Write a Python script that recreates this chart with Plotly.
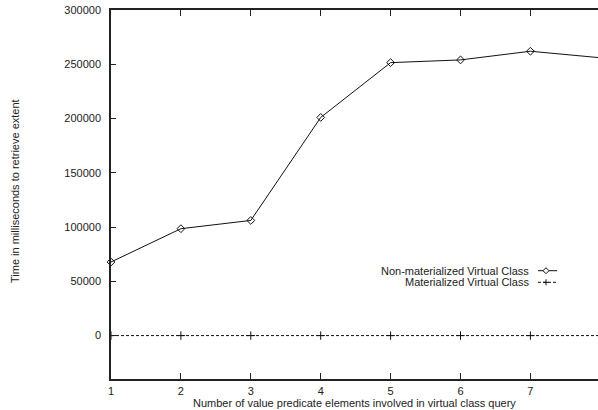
import plotly.graph_objects as go

# Number of value predicate elements in the virtual class query
elements = [1, 2, 3, 4, 5, 6, 7, 8]
# Retrieval time in milliseconds
non_materialized = [67800, 98500, 106100, 201000, 251500, 254000, 262000, 256000]
materialized = [0, 0, 0, 0, 0, 0, 0, 0]

series_names = ["Non-materialized Virtual Class", "Materialized Virtual Class"]
x_ticks = [1, 2, 3, 4, 5, 6, 7]
y_ticks = [0, 50000, 100000, 150000, 200000, 250000, 300000]

W, H = 598, 410
ML, MR, MT, MB = 111, 0, 10, 31
PW, PH = W - ML - MR, H - MT - MB

FONT = dict(family="Liberation Sans, Arial, Helvetica, sans-serif", size=11, color="#222")
INK = "#111"
Y_RANGE = [-40000, 300000]


def px_x(p):
    return (p - ML) / PW


def px_y(p):
    return (H - MB - p) / PH


fig = go.Figure()
fig.add_trace(go.Scatter(
    x=elements, y=non_materialized, mode="lines+markers", name=series_names[0],
    line=dict(color=INK, width=1),
    marker=dict(symbol="diamond-open", size=6, color=INK, line=dict(width=1, color=INK)),
    cliponaxis=False, showlegend=False,
))
fig.add_trace(go.Scatter(
    x=elements, y=materialized, mode="lines+markers", name=series_names[1],
    line=dict(color=INK, width=1, dash="3px,2px"),
    marker=dict(symbol="cross-thin", size=6, color=INK, line=dict(width=1, color=INK)),
    showlegend=False,
))

axis_common = dict(
    showgrid=False, zeroline=False, showline=True, linecolor="#222", linewidth=1.5,
    ticks="inside", tickcolor="#222", tickwidth=1, tickfont=FONT,
)
fig.update_layout(
    xaxis=dict(range=[1, 1 + 487 / 69.9], tickvals=x_ticks, ticklen=6,
               mirror="ticks", ticklabelstandoff=1, **axis_common),
    yaxis=dict(range=Y_RANGE, tickvals=y_ticks, ticklen=5,
               tickformat="d", ticklabelstandoff=6, **axis_common),
    # right-hand tick marks along the frame edge
    yaxis2=dict(range=Y_RANGE, tickvals=y_ticks, overlaying="y", side="right",
                showline=False, showgrid=False, zeroline=False, showticklabels=False,
                ticks="inside", ticklen=3, tickwidth=1, tickcolor="#222"),
)

# Legend: text right-aligned with the line sample on its right
annotations = [
    dict(text="Number of value predicate elements involved in virtual class query",
         x=0.5, y=px_y(402.5), xref="paper", yref="paper", showarrow=False,
         xanchor="center", yanchor="middle", font=FONT),
    dict(text="Time in milliseconds to retrieve extent", textangle=-90,
         x=px_x(15), y=px_y(191), xref="paper", yref="paper", showarrow=False,
         xanchor="center", yanchor="middle", font=FONT),
]
shapes = []
legend_rows = [(270.7, "solid", "diamond"), (282.3, "3px,2px", "cross")]
for name, (py, dash, sym) in zip(series_names, legend_rows):
    annotations.append(dict(text=name, x=px_x(531), y=px_y(py), xref="paper", yref="paper",
                            showarrow=False, xanchor="right", yanchor="middle", font=FONT))
    shapes.append(dict(type="line", xref="paper", yref="paper",
                       x0=px_x(538), x1=px_x(557), y0=px_y(py), y1=px_y(py),
                       line=dict(color=INK, width=1, dash=dash)))
    if sym == "diamond":
        path = "M 0 -3 L 3 0 L 0 3 L -3 0 Z"
        fill = "white"
    else:
        path = "M -3 0 L 3 0 M 0 -3 L 0 3"
        fill = None
    shapes.append(dict(type="path", path=path, xref="paper", yref="paper",
                       xsizemode="pixel", ysizemode="pixel",
                       xanchor=px_x(546), yanchor=px_y(py),
                       fillcolor=fill, line=dict(color=INK, width=1)))

fig.update_layout(
    width=W, height=H, margin=dict(l=ML, r=MR, t=MT, b=MB, pad=0),
    paper_bgcolor="white", plot_bgcolor="white", font=FONT,
    annotations=annotations, shapes=shapes, showlegend=False,
)

fig.write_html("out.html")
